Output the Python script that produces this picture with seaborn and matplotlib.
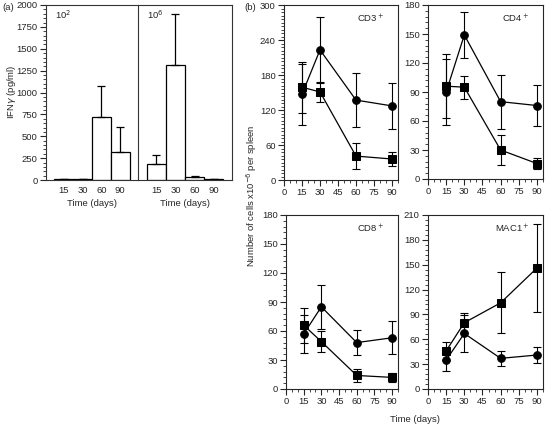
import numpy as np
import pandas as pd
import matplotlib
matplotlib.use("Agg")
import matplotlib.pyplot as plt
from matplotlib.ticker import MultipleLocator
import seaborn as sns

# -------------------------------
# data
# -------------------------------
days_cat = ["15", "30", "60", "90"]
ifn_low = [12, 12, 725, 315]          # 10^2 dose
ifn_low_err = [0, 0, 355, 295]
ifn_high = [188, 1320, 30, 15]        # 10^6 dose
ifn_high_err = [95, 575, 12, 0]

days = [15, 30, 60, 90]
cd3_circ = [147, 223, 137, 127]
cd3_circ_err = [52, 57, 46, 39]
cd3_sq = [159, 151, 41, 36]
cd3_sq_err = [44, 17, 22, 12]

cd4_circ = [90, 149, 80, 76]
cd4_circ_err = [34, 24, 28, 21]
cd4_sq = [96, 95, 30, 16]
cd4_sq_err = [33, 12, 16, 6]

cd8_circ = [57, 85, 48, 53]
cd8_circ_err = [20, 23, 13, 17]
cd8_sq = [66, 49, 14, 12]
cd8_sq_err = [18, 11, 7, 5]

mac_circ = [35, 67, 37, 41]
mac_circ_err = [13, 22, 9, 10]
mac_sq = [46, 80, 104, 146]
mac_sq_err = [11, 12, 37, 53]

FS = 6.8
sns.set_style("ticks")
plt.rcParams['font.family'] = ['Liberation Sans', 'DejaVu Sans']
plt.rcParams['font.size'] = FS
plt.rcParams['axes.linewidth'] = 0.8
plt.rcParams['xtick.major.width'] = 0.8
plt.rcParams['ytick.major.width'] = 0.8
plt.rcParams['xtick.major.pad'] = 2
plt.rcParams['ytick.major.pad'] = 2

fig = plt.figure(figsize=(5.47, 4.32), dpi=100)
W, H = 547.0, 432.0


def add_ax(x0, y0, x1, y1):
    # pixel box -> figure fraction
    return fig.add_axes([x0 / W, 1 - y1 / H, (x1 - x0) / W, (y1 - y0) / H])


# -------------------------------
# panel (a): IFN-gamma bars
# -------------------------------
ax_l = add_ax(46, 5, 138, 180)
ax_r = add_ax(138, 5, 232, 180)

for ax, vals, errs, lab in [(ax_l, ifn_low, ifn_low_err, "10$^2$"),
                            (ax_r, ifn_high, ifn_high_err, "10$^6$")]:
    ax.patch.set_visible(False)
    sns.barplot(x=days_cat, y=vals, color="white", edgecolor="black",
                linewidth=0.9, width=1.0, errorbar=None, ax=ax)
    ax.errorbar(x=np.arange(4), y=vals, yerr=[np.zeros(4), errs], fmt="none",
                ecolor="black", elinewidth=0.9, capsize=3, capthick=0.9)
    ax.set_xlim(-0.95, 3.95)
    ax.set_ylim(0, 2000)
    ax.tick_params(axis="x", length=0, pad=4)
    ax.set_xlabel("Time (days)", labelpad=3)
    ax.text(0.1, 0.92, lab, transform=ax.transAxes, fontsize=FS)
    for s in ax.spines.values():
        s.set_visible(True)
        s.set_color("#333333")

ax_l.yaxis.set_major_locator(MultipleLocator(250))
ax_l.yaxis.set_minor_locator(MultipleLocator(50))
ax_l.tick_params(axis="y", which="major", length=4)
ax_l.tick_params(axis="y", which="minor", length=2)
ax_l.set_ylabel("")
ax_r.set_yticks([])
ax_r.spines["left"].set_visible(False)
fig.text(12 / W, 1 - 92 / H, "IFN$\\gamma$ (pg/ml)", rotation=90,
         ha="center", va="center", fontsize=FS)
fig.text(2 / W, 1 - 10 / H, "(a)", fontsize=FS)

# -------------------------------
# panel (b): cell counts
# -------------------------------
panels = [
    ((284, 5, 398, 180), cd3_circ, cd3_circ_err, cd3_sq, cd3_sq_err, 300, 60, 6, "CD3$^+$"),
    ((428, 5, 543, 179), cd4_circ, cd4_circ_err, cd4_sq, cd4_sq_err, 180, 30, 6, "CD4$^+$"),
    ((286, 215, 398, 389), cd8_circ, cd8_circ_err, cd8_sq, cd8_sq_err, 180, 30, 6, "CD8$^+$"),
    ((428, 215, 543, 389), mac_circ, mac_circ_err, mac_sq, mac_sq_err, 210, 30, 6, "MAC1$^+$"),
]

for box, yc, ec, ys, es, ymax, step, minor, lab in panels:
    ax = add_ax(*box)
    for yv, ev, mk in [(yc, ec, "o"), (ys, es, "s")]:
        ax.errorbar(days, yv, yerr=ev, fmt="none", ecolor="black",
                    elinewidth=0.8, capsize=3, capthick=0.8)
        sns.lineplot(x=days, y=yv, color="black", marker=mk, markersize=5.5,
                     markeredgecolor="black", linewidth=0.9, ax=ax)
    ax.set_xlim(0, 95)
    ax.set_ylim(0, ymax)
    ax.set_xticks([0, 15, 30, 45, 60, 75, 90])
    ax.xaxis.set_minor_locator(MultipleLocator(5))
    ax.yaxis.set_major_locator(MultipleLocator(step))
    ax.yaxis.set_minor_locator(MultipleLocator(minor))
    ax.tick_params(which="major", length=4)
    ax.tick_params(which="minor", length=2)
    ax.text(0.88, 0.9, lab, transform=ax.transAxes, ha="right", fontsize=FS)
    for s in ax.spines.values():
        s.set_visible(True)

fig.text(244 / W, 1 - 10 / H, "(b)", fontsize=FS)
fig.text(252 / W, 1 - 196 / H, "Number of cells x10$^{-6}$ per spleen",
         rotation=90, ha="center", va="center", fontsize=FS)
fig.text(415 / W, 1 - 420 / H, "Time (days)", ha="center", va="center", fontsize=FS)

fig.savefig("out.png", dpi=100)
